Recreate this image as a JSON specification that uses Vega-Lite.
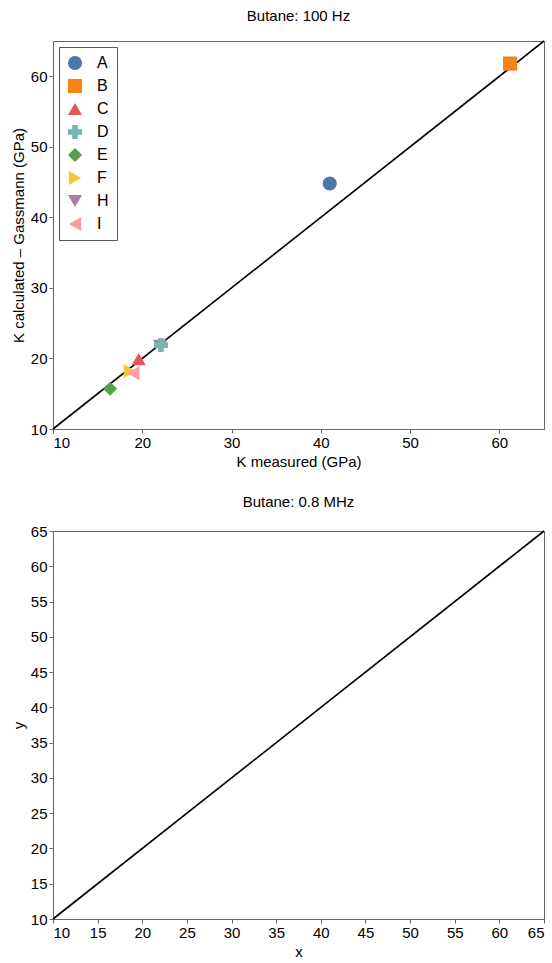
{
  "$schema": "https://vega.github.io/schema/vega-lite/v6.json",
  "padding": {"left": 10, "top": 8, "right": 1, "bottom": 4},
  "spacing": 24,
  "config": {
    "font": "Liberation Sans",
    "view": {"stroke": "#666"},
    "axis": {"grid": false, "domainColor": "#666", "tickColor": "#666", "labelColor": "#000", "titleColor": "#000", "labelFontSize": 15, "titleFontSize": 15, "titleFontWeight": "normal", "tickSize": 4},
    "title": {"fontSize": 15, "fontWeight": "normal", "offset": 14, "color": "#000"},
    "legend": {"orient": "top-left", "offset": 6, "strokeColor": "#555", "fillColor": "white", "padding": 8, "labelFontSize": 16, "symbolSize": 200, "rowPadding": 7, "labelOffset": 14, "labelColor": "#000"}
  },
  "datasets": {
    "pts": [
      {"panel": "top", "series": "A", "x": 41.0, "y": 44.8},
      {"panel": "top", "series": "B", "x": 61.2, "y": 61.8},
      {"panel": "top", "series": "C", "x": 19.6, "y": 19.9},
      {"panel": "top", "series": "H", "x": 22.0, "y": 21.8},
      {"panel": "top", "series": "D", "x": 22.1, "y": 21.9},
      {"panel": "top", "series": "E", "x": 16.4, "y": 15.7},
      {"panel": "top", "series": "F", "x": 18.6, "y": 18.2},
      {"panel": "top", "series": "I", "x": 19.0, "y": 17.9}
    ],
    "diag": [{"x": 10, "y": 10}, {"x": 65, "y": 65}]
  },
  "vconcat": [
    {
      "title": "Butane: 100 Hz",
      "width": 491,
      "height": 388,
      "layer": [
        {
          "data": {"name": "diag"},
          "mark": {"type": "line", "color": "#000", "strokeWidth": 1.6},
          "encoding": {
            "x": {"field": "x", "type": "quantitative", "scale": {"domain": [10, 65], "nice": false, "zero": false}, "axis": {"title": "K measured (GPa)", "values": [10, 20, 30, 40, 50, 60]}},
            "y": {"field": "y", "type": "quantitative", "scale": {"domain": [10, 65], "nice": false, "zero": false}, "axis": {"title": "K calculated – Gassmann (GPa)", "values": [10, 20, 30, 40, 50, 60]}}
          }
        },
        {
          "data": {"name": "pts"},
          "mark": {"type": "point", "filled": true, "size": 200, "opacity": 1},
          "encoding": {
            "x": {"field": "x", "type": "quantitative"},
            "y": {"field": "y", "type": "quantitative"},
            "color": {"field": "series", "type": "nominal", "legend": {"title": null}},
            "shape": {"field": "series", "type": "nominal", "legend": {"title": null}}
          }
        }
      ]
    },
    {
      "title": "Butane: 0.8 MHz",
      "width": 491,
      "height": 388,
      "layer": [
        {
          "data": {"name": "diag"},
          "mark": {"type": "line", "color": "#000", "strokeWidth": 1.6},
          "encoding": {
            "x": {"field": "x", "type": "quantitative", "scale": {"domain": [10, 65], "nice": false, "zero": false}},
            "y": {"field": "y", "type": "quantitative", "scale": {"domain": [10, 65], "nice": false, "zero": false}}
          }
        }
      ]
    }
  ]
}
